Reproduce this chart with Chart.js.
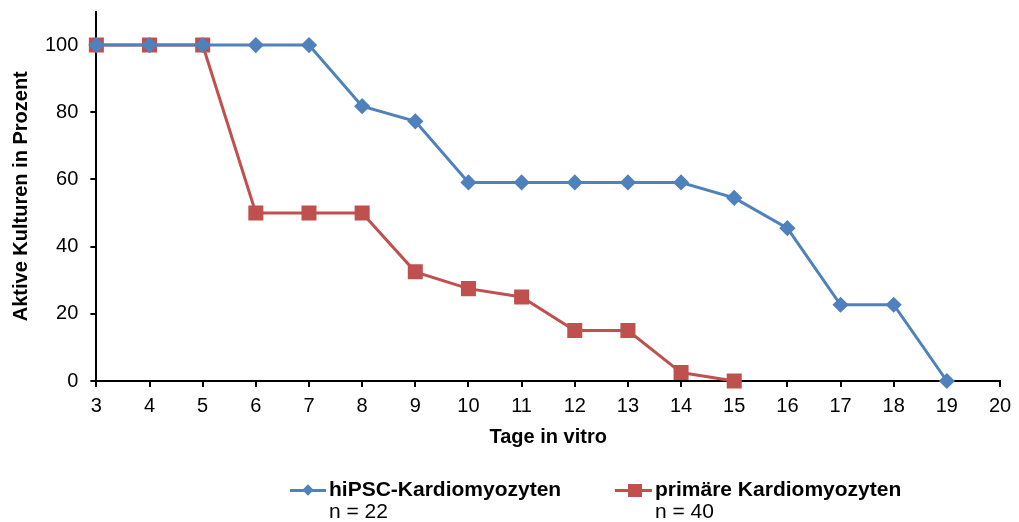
<!DOCTYPE html>
<html>
<head>
<meta charset="utf-8">
<script src="https://cdn.jsdelivr.net/npm/chart.js@4/dist/chart.umd.min.js"></script>
<style>
  body { margin: 0; background: #fff; font-family: "Liberation Sans", Arial, sans-serif; }
  #wrap { position: relative; width: 1019px; height: 522px; }
  #legend { position: absolute; left: 0; top: 478px; width: 1019px; height: 44px; }
  .item { position: absolute; top: 0; color: #000; font-size: 21px; line-height: 22px; white-space: nowrap; }
  .item b { display: block; }
  .mark { position: absolute; top: 11px; height: 3px; }
  .sym { position: absolute; }
</style>
</head>
<body>
<div id="wrap">
  <canvas id="chart" width="1019" height="522"></canvas>
  <div id="legend">
    <div class="mark" style="left:290px;width:36px;background:#4F81BD"></div>
    <div class="sym" style="left:304px;top:8px;width:8px;height:8px;background:#4F81BD;transform:rotate(45deg)"></div>
    <div class="item" style="left:329px"><b>hiPSC-Kardiomyozyten</b>n = 22</div>
    <div class="mark" style="left:615px;width:37px;background:#C0504D"></div>
    <div class="sym" style="left:628px;top:6px;width:14px;height:13px;background:#C0504D"></div>
    <div class="item" style="left:655px"><b>primäre Kardiomyozyten</b>n = 40</div>
  </div>
</div>
<script>
const days = [3, 4, 5, 6, 7, 8, 9, 10, 11, 12, 13, 14, 15, 16, 17, 18, 19];
const hipsc = [100, 100, 100, 100, 100, 81.8, 77.3, 59.1, 59.1, 59.1, 59.1, 59.1, 54.5, 45.5, 22.7, 22.7, 0];
const primaryDays = [3, 4, 5, 6, 7, 8, 9, 10, 11, 12, 13, 14, 15];
const primary = [100, 100, 100, 50, 50, 50, 32.5, 27.5, 25, 15, 15, 2.5, 0];
const seriesNames = ['hiPSC-Kardiomyozyten', 'primäre Kardiomyozyten'];

const font = { family: '"Liberation Sans", Arial, sans-serif', size: 20 };
const boldFont = { family: '"Liberation Sans", Arial, sans-serif', size: 20, weight: 'bold' };

new Chart(document.getElementById('chart'), {
  type: 'line',
  data: {
    datasets: [
      {
        label: seriesNames[0],
        data: days.map((d, i) => ({ x: d, y: hipsc[i] })),
        borderColor: '#4F81BD',
        backgroundColor: '#4F81BD',
        borderWidth: 3,
        pointStyle: 'rectRot',
        pointRadius: 6,
        pointHoverRadius: 6,
        clip: false
      },
      {
        label: seriesNames[1],
        data: primaryDays.map((d, i) => ({ x: d, y: primary[i] })),
        borderColor: '#C0504D',
        backgroundColor: '#C0504D',
        borderWidth: 3,
        pointStyle: 'rect',
        pointRadius: 8.5,
        pointHoverRadius: 8.5,
        clip: false
      }
    ]
  },
  options: {
    responsive: false,
    animation: false,
    layout: { padding: { left: 4, right: 19, top: 5, bottom: 73 } },
    plugins: { legend: { display: false }, tooltip: { enabled: false } },
    scales: {
      x: {
        type: 'linear',
        min: 3,
        max: 20,
        ticks: { stepSize: 1, color: '#000', font: font, padding: 7 },
        grid: { drawOnChartArea: false, color: '#000', tickLength: 6, lineWidth: 2 },
        border: { color: '#000', width: 2 },
        title: { display: true, text: 'Tage in vitro', color: '#000', font: boldFont, padding: { top: 0, bottom: 0 } }
      },
      y: {
        min: 0,
        max: 110,
        ticks: { stepSize: 20, includeBounds: false, color: '#000', font: font, padding: 12 },
        grid: { drawOnChartArea: false, color: '#000', tickLength: 6, lineWidth: 2 },
        border: { color: '#000', width: 2 },
        title: { display: true, text: 'Aktive Kulturen in Prozent', color: '#000', font: boldFont, padding: { top: 5, bottom: 0 } },
        // the 100 label sits well below the axis top, so it needs no extra room
        afterFit: (scale) => { scale.paddingTop = 0; }
      }
    }
  }
});
</script>
</body>
</html>
